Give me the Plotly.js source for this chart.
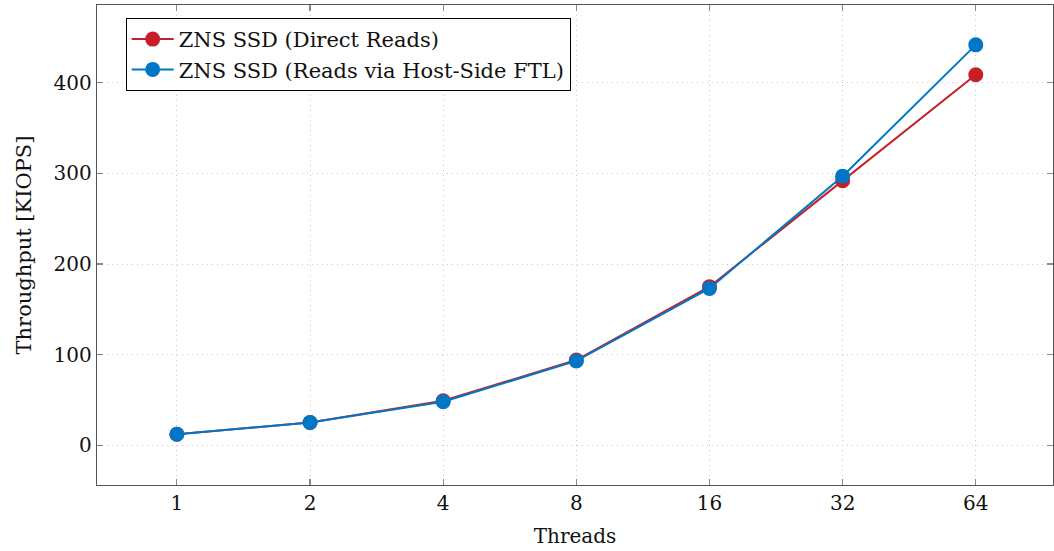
<!DOCTYPE html>
<html><head><meta charset="utf-8">
<script src="https://cdn.plot.ly/plotly-3.0.1.min.js"></script>
<style>html,body{margin:0;padding:0;background:#fff}#c{width:1054px;height:551px}</style>
</head><body><div id="c"></div>
<script>
const threads = ["1","2","4","8","16","32","64"];
const directReads = [12, 25, 49, 94, 175, 292, 409];
const hostFtlReads = [12, 25, 48, 93, 173, 297, 442];
const yTicks = [0, 100, 200, 300, 400];

const idx = threads.map((_, i) => i);
const fam = "'DejaVu Serif', serif";
const font = {family: fam, color: "#111", size: 20};

const traces = [
  {x: idx, y: directReads, name: "ZNS SSD (Direct Reads)", type: "scatter", mode: "lines+markers",
   line: {color: "#c81e28", width: 2}, marker: {color: "#c81e28", size: 15}},
  {x: idx, y: hostFtlReads, name: "ZNS SSD (Reads via Host-Side FTL)", type: "scatter", mode: "lines+markers",
   line: {color: "#0077c6", width: 2}, marker: {color: "#0077c6", size: 15}}
];

const layout = {
  width: 1054, height: 551,
  margin: {l: 97, r: 1, t: 5, b: 66},
  paper_bgcolor: "#fff", plot_bgcolor: "#fff",
  font: font,
  showlegend: true,
  legend: {x: 0.03, y: 0.973, xanchor: "left", yanchor: "top", bordercolor: "#000", borderwidth: 1,
    bgcolor: "#fff", font: {family: fam, size: 21, color: "#111"}, tracegroupgap: 0, itemwidth: 42},
  xaxis: {
    range: [-0.6, 6.58], tickvals: idx, ticktext: threads,
    showline: true, linecolor: "#555", linewidth: 1.2, mirror: "ticks",
    ticks: "inside", ticklen: 6, tickcolor: "#888", tickwidth: 1.2,
    showgrid: true, gridcolor: "#c8c8c8", griddash: "1px,4px", gridwidth: 1,
    zeroline: false,
    title: {text: "Threads", font: {family: fam, size: 20, color: "#111"}, standoff: 14},
    tickfont: {family: fam, size: 20, color: "#111"}
  },
  yaxis: {
    range: [-44, 486], tickvals: yTicks,
    showline: true, linecolor: "#555", linewidth: 1.2, mirror: "ticks",
    ticks: "inside", ticklen: 6, tickcolor: "#888", tickwidth: 1.2,
    showgrid: true, gridcolor: "#c8c8c8", griddash: "1px,4px", gridwidth: 1,
    zeroline: false,
    title: {text: "Throughput [KIOPS]", font: {family: fam, size: 21, color: "#111"}, standoff: 16},
    tickfont: {family: fam, size: 20, color: "#111"}
  }
};
Plotly.newPlot("c", traces, layout, {displayModeBar: false, staticPlot: true});
</script>
</body></html>
